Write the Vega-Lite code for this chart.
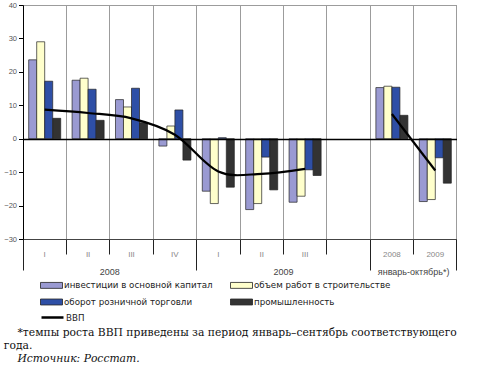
{
  "$schema": "https://vega.github.io/schema/vega-lite/v6.json",
  "width": 434,
  "height": 234,
  "padding": {"left": 3, "top": 1, "right": 0, "bottom": 0},
  "background": "white",
  "datasets": {
    "bars": [
      {"slot": "I|2008", "series": "инвестиции в основной капитал", "value": 23.6},
      {"slot": "I|2008", "series": "объем работ в строительстве", "value": 29.0},
      {"slot": "I|2008", "series": "оборот розничной торговли", "value": 17.2},
      {"slot": "I|2008", "series": "промышленность", "value": 6.1},
      {"slot": "II|2008", "series": "инвестиции в основной капитал", "value": 17.5},
      {"slot": "II|2008", "series": "объем работ в строительстве", "value": 18.1},
      {"slot": "II|2008", "series": "оборот розничной торговли", "value": 14.8},
      {"slot": "II|2008", "series": "промышленность", "value": 5.5},
      {"slot": "III|2008", "series": "инвестиции в основной капитал", "value": 11.7},
      {"slot": "III|2008", "series": "объем работ в строительстве", "value": 9.5},
      {"slot": "III|2008", "series": "оборот розничной торговли", "value": 15.1},
      {"slot": "III|2008", "series": "промышленность", "value": 4.8},
      {"slot": "IV|2008", "series": "инвестиции в основной капитал", "value": -2.2},
      {"slot": "IV|2008", "series": "объем работ в строительстве", "value": 3.8},
      {"slot": "IV|2008", "series": "оборот розничной торговли", "value": 8.6},
      {"slot": "IV|2008", "series": "промышленность", "value": -6.4},
      {"slot": "I|2009", "series": "инвестиции в основной капитал", "value": -15.7},
      {"slot": "I|2009", "series": "объем работ в строительстве", "value": -19.4},
      {"slot": "I|2009", "series": "оборот розничной торговли", "value": 0.3},
      {"slot": "I|2009", "series": "промышленность", "value": -14.5},
      {"slot": "II|2009", "series": "инвестиции в основной капитал", "value": -21.2},
      {"slot": "II|2009", "series": "объем работ в строительстве", "value": -19.4},
      {"slot": "II|2009", "series": "оборот розничной торговли", "value": -5.5},
      {"slot": "II|2009", "series": "промышленность", "value": -15.3},
      {"slot": "III|2009", "series": "инвестиции в основной капитал", "value": -19.0},
      {"slot": "III|2009", "series": "объем работ в строительстве", "value": -17.2},
      {"slot": "III|2009", "series": "оборот розничной торговли", "value": -9.3},
      {"slot": "III|2009", "series": "промышленность", "value": -11.0},
      {"slot": "2008|ЯО", "series": "инвестиции в основной капитал", "value": 15.3},
      {"slot": "2008|ЯО", "series": "объем работ в строительстве", "value": 15.7},
      {"slot": "2008|ЯО", "series": "оборот розничной торговли", "value": 15.4},
      {"slot": "2008|ЯО", "series": "промышленность", "value": 7.0},
      {"slot": "2009|ЯО", "series": "инвестиции в основной капитал", "value": -18.8},
      {"slot": "2009|ЯО", "series": "объем работ в строительстве", "value": -18.2},
      {"slot": "2009|ЯО", "series": "оборот розничной торговли", "value": -5.7},
      {"slot": "2009|ЯО", "series": "промышленность", "value": -13.3}
    ],
    "gdp": [
      {"slot": "I|2008", "gdp": 8.7, "name": "ВВП", "seg": "a"},
      {"slot": "II|2008", "gdp": 7.7, "name": "ВВП", "seg": "a"},
      {"slot": "III|2008", "gdp": 6.1, "name": "ВВП", "seg": "a"},
      {"slot": "IV|2008", "gdp": 1.2, "name": "ВВП", "seg": "a"},
      {"slot": "I|2009", "gdp": -9.8, "name": "ВВП", "seg": "a"},
      {"slot": "II|2009", "gdp": -10.5, "name": "ВВП", "seg": "a"},
      {"slot": "III|2009", "gdp": -9.0, "name": "ВВП", "seg": "a"},
      {"slot": "2008|ЯО", "gdp": 7.4, "name": "ВВП", "seg": "b"},
      {"slot": "2009|ЯО", "gdp": -9.5, "name": "ВВП", "seg": "b"}
    ]
  },
  "title": {
    "text": ["\u200b\u00a0\u00a0\u00a0\u00a0*темпы роста ВВП приведены за период январь–сентябрь соответствующего", "года."],
    "subtitle": "\u200b\u00a0\u00a0\u00a0\u00a0Источник: Росстат.",
    "orient": "bottom",
    "anchor": "start",
    "frame": "bounds",
    "offset": 5,
    "font": "DejaVu Serif",
    "fontSize": 10.75,
    "fontWeight": "normal",
    "color": "#111",
    "lineHeight": 13,
    "subtitleFont": "DejaVu Serif",
    "subtitleFontSize": 10.75,
    "subtitleFontStyle": "italic",
    "subtitleColor": "#111",
    "subtitlePadding": 2
  },
  "layer": [
    {
      "data": {"name": "bars"},
      "mark": {"type": "bar", "stroke": "#222", "strokeWidth": 0.7},
      "encoding": {
        "x": {
          "field": "slot",
          "type": "nominal",
          "scale": {
            "domain": ["I|2008", "II|2008", "III|2008", "IV|2008", "I|2009", "II|2009", "III|2009", "|2009", "2008|ЯО", "2009|ЯО"],
            "paddingInner": 0,
            "paddingOuter": 0
          },
          "axis": {
            "orient": "bottom",
            "title": null,
            "bandPosition": 1,
            "grid": true,
            "gridColor": "#9c9c9c",
            "gridWidth": 1,
            "domain": true,
            "domainColor": "#444",
            "ticks": true,
            "tickColor": "#222",
            "tickSize": {"condition": {"test": "indexof(['IV|2008', '|2009', '2009|ЯО'], datum.value) >= 0", "value": 31}, "value": 15},
            "labelPadding": {"condition": {"test": "indexof(['IV|2008', '|2009', '2009|ЯО'], datum.value) >= 0", "value": -19.5}, "value": -3.5},
            "labelAngle": 0,
            "labelOverlap": false,
            "labelExpr": "split(datum.value, '|')[0]",
            "labelFont": "Liberation Sans",
            "labelFontSize": 8,
            "labelColor": "#888"
          }
        },
        "xOffset": {
          "field": "series",
          "type": "nominal",
          "scale": {
            "domain": ["инвестиции в основной капитал", "объем работ в строительстве", "оборот розничной торговли", "промышленность"],
            "paddingOuter": 0.71,
            "paddingInner": 0
          }
        },
        "y": {
          "field": "value",
          "type": "quantitative",
          "scale": {"domain": [-30, 40], "nice": false},
          "axis": {
            "title": null,
            "zindex": 1,
            "values": [-30, -20, -10, 0, 10, 20, 30, 40],
            "labelOverlap": false,
            "grid": true,
            "gridColor": {"condition": {"test": "datum.value === 0", "value": "#000"}, "value": "#9c9c9c"},
            "gridWidth": {"condition": {"test": "datum.value === 0", "value": 1.3}, "value": 1},
            "gridOpacity": {"condition": {"test": "datum.value === 40 || datum.value === 0", "value": 1}, "value": 0},
            "domainColor": "#000",
            "tickColor": "#000",
            "tickSize": 4.5,
            "labelPadding": 2,
            "labelFont": "Liberation Sans",
            "labelFontSize": 7.5,
            "labelColor": "#555"
          }
        },
        "fill": {
          "field": "series",
          "type": "nominal",
          "scale": {
            "domain": ["инвестиции в основной капитал", "объем работ в строительстве", "оборот розничной торговли", "промышленность"],
            "range": ["#9a9ad2", "#ffffcc", "#2e4fa6", "#333333"]
          },
          "legend": {
            "orient": "none",
            "direction": "horizontal",
            "legendX": 17,
            "legendY": 268.5,
            "columns": 2,
            "columnPadding": 15,
            "rowPadding": 0,
            "padding": 0,
            "title": null,
            "symbolType": "M-1,-0.27H1V0.27H-1Z",
            "symbolSize": 484,
            "symbolStrokeColor": "#222",
            "symbolStrokeWidth": 0.8,
            "labelFont": "DejaVu Sans",
            "labelFontSize": 8.7,
            "labelColor": "#222",
            "labelOffset": 1,
            "labelLimit": 300
          }
        }
      }
    },
    {
      "data": {"name": "gdp"},
      "mark": {"type": "line", "interpolate": "cardinal", "strokeWidth": 2.2},
      "encoding": {
        "x": {
          "field": "slot",
          "type": "nominal",
          "scale": {
            "domain": ["I|2008", "II|2008", "III|2008", "IV|2008", "I|2009", "II|2009", "III|2009", "|2009", "2008|ЯО", "2009|ЯО"],
            "paddingInner": 0,
            "paddingOuter": 0
          },
          "axis": {
            "orient": "bottom",
            "title": null,
            "bandPosition": 0,
            "grid": true,
            "gridColor": "#9c9c9c",
            "gridWidth": 1,
            "domain": false,
            "ticks": true,
            "tickColor": "#222",
            "tickSize": 31,
            "tickOpacity": {"condition": {"test": "datum.value === 'I|2008'", "value": 1}, "value": 0},
            "labelOffset": 21.7,
            "labelPadding": -3,
            "labelAngle": 0,
            "labelOverlap": false,
            "labelExpr": "datum.value === 'II|2008' ? '2008' : datum.value === 'II|2009' ? '2009' : datum.value === '2008|ЯО' ? 'январь-октябрь*)' : ''",
            "labelFont": "Liberation Sans",
            "labelFontSize": 9,
            "labelColor": "#444"
          }
        },
        "y": {
          "field": "gdp",
          "type": "quantitative",
          "scale": {"domain": [-30, 40], "nice": false},
          "axis": {
            "title": null,
            "zindex": 1,
            "values": [-30, -20, -10, 0, 10, 20, 30, 40],
            "labelOverlap": false,
            "grid": true,
            "gridColor": {"condition": {"test": "datum.value === 0", "value": "#000"}, "value": "#9c9c9c"},
            "gridWidth": {"condition": {"test": "datum.value === 0", "value": 1.3}, "value": 1},
            "gridOpacity": {"condition": {"test": "datum.value === 40 || datum.value === 0", "value": 1}, "value": 0},
            "domainColor": "#000",
            "tickColor": "#000",
            "tickSize": 4.5,
            "labelPadding": 2,
            "labelFont": "Liberation Sans",
            "labelFontSize": 7.5,
            "labelColor": "#555"
          }
        },
        "stroke": {
          "field": "name",
          "type": "nominal",
          "scale": {"domain": ["ВВП"], "range": ["#000"]},
          "legend": {
            "orient": "none",
            "legendX": 17,
            "legendY": 300,
            "padding": 0,
            "title": null,
            "symbolType": "stroke",
            "symbolSize": 484,
            "symbolStrokeWidth": 2.5,
            "labelFont": "DejaVu Sans",
            "labelFontSize": 8.7,
            "labelColor": "#222",
            "labelOffset": 1
          }
        },
        "detail": {"field": "seg", "type": "nominal"}
      }
    }
  ],
  "resolve": {"axis": {"x": "independent"}},
  "config": {
    "view": {"stroke": "#9c9c9c", "strokeWidth": 1},
    "axisY": {"labelOverlap": false}
  }
}
